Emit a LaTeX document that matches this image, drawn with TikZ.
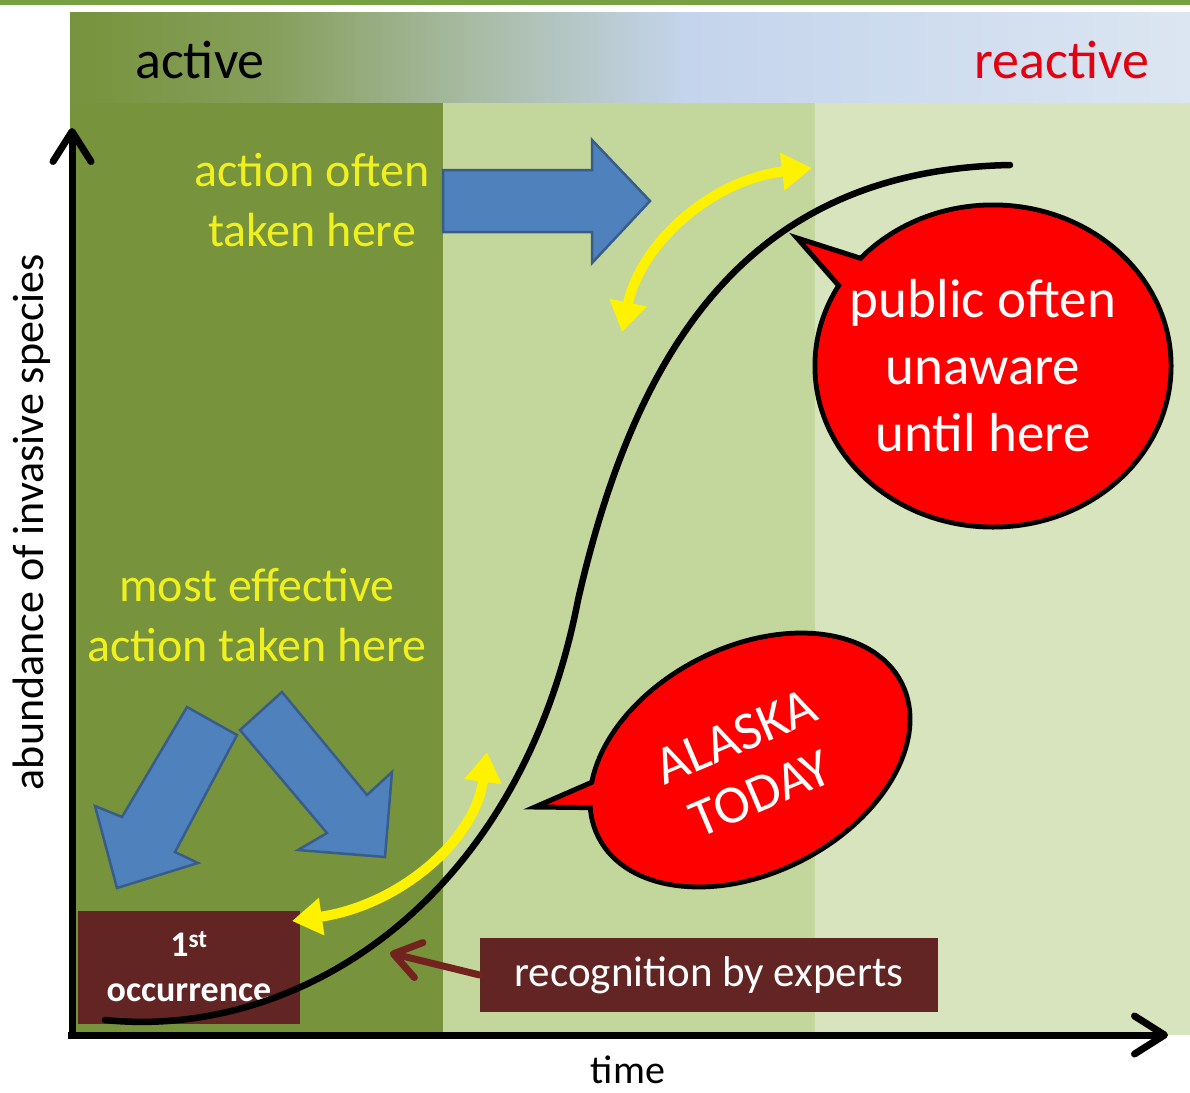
\documentclass[tikz,border=0pt]{standalone}
\usepackage{fontspec}
\setmainfont{Carlito}
\usetikzlibrary{arrows.meta,shapes.geometric,calc}
\definecolor{topgreen}{HTML}{77A043}
\definecolor{darkpanel}{HTML}{77933C}
\definecolor{midpanel}{HTML}{C3D69B}
\definecolor{lightpanel}{HTML}{D7E4BD}
\definecolor{bargray}{HTML}{A8BBA4}
\definecolor{barblue}{HTML}{C4D4EC}
\definecolor{barright}{HTML}{DCE6F2}
\definecolor{arrowblue}{HTML}{4F81BD}
\definecolor{arrowedge}{HTML}{385D8A}
\definecolor{boxbrown}{HTML}{632523}
\definecolor{arrowbrown}{HTML}{72231E}
\definecolor{txtyellow}{HTML}{F0F01E}
\definecolor{bubblered}{HTML}{FF0000}
\definecolor{reactred}{HTML}{E3000F}
\pgfdeclarehorizontalshading{headerbar}{100bp}{color(0bp)=(darkpanel); color(25bp)=(darkpanel); color(34bp)=(darkpanel!70!bargray); color(43bp)=(bargray); color(52.5bp)=(barblue); color(75bp)=(barright); color(100bp)=(barright)}
\begin{document}
\begin{tikzpicture}[x=1pt,y=-1pt,
  bigtxt/.style={font=\fontsize{54}{60}\selectfont, inner sep=0pt},
  yellowtxt/.style={text=txtyellow, align=center, font=\fontsize{48}{60}\selectfont, inner sep=0pt},
  axislabel/.style={font=\fontsize{44}{48}\selectfont, inner sep=0pt},
  blockarrow/.style={fill=arrowblue, draw=arrowedge, line width=2.5pt, line join=miter},
  brownbox/.style={fill=boxbrown, text=white, inner sep=0pt, align=center},
  axisline/.style={line width=7pt, black, -{Straight Barb[length=30pt,width=38pt,round]}},
  scurve/.style={line width=6.5pt, black, line cap=round},
  yellowarrow/.style={line width=10pt, yellow, {Triangle[length=30pt,width=36pt]}-{Triangle[length=30pt,width=36pt]}},
  brownarrow/.style={line width=7pt, arrowbrown, line cap=round, -{Straight Barb[length=26pt,width=36pt,round]}},
  bubbleout/.style={ellipse, fill=bubblered, draw=black, line width=5pt, inner sep=0pt},
  bubblein/.style={ellipse, fill=bubblered, inner sep=0pt},
  bubbletail/.style={fill=bubblered, draw=black, line width=5pt, line join=miter},
  bubbletxt/.style={text=white, align=center, inner sep=0pt}
]
\useasboundingbox (0,0) rectangle (1190,1092);
\fill[white] (0,0) rectangle (1190,1092);
\fill[topgreen] (0,0) rectangle (1190,5);
% header gradient
\shade[shading=headerbar] (70,12) rectangle (1190,103);
\node[bigtxt, text=black] (active) at (200,60) {active};
\node[bigtxt, text=reactred] (reactive) at (1062,60) {reactive};
% panels
\fill[darkpanel] (70,103) rectangle (443,1035);
\fill[midpanel] (443,103) rectangle (815,1035);
\fill[lightpanel] (815,103) rectangle (1190,1035);

% yellow texts
\node[yellowtxt] (often) at (312,200) {action often\\taken here};
\node[yellowtxt] (effective) at (257,615) {most effective\\action taken here};

% blue block arrows
\draw[blockarrow] (443,170) -- (592,170) -- (592,140) -- (650,201) -- (592,263) -- (592,232) -- (443,232) -- cycle;
\draw[blockarrow] (187,707) -- (237,735) -- (175,852) -- (198,863) -- (117,888) -- (95,806) -- (122,817) -- cycle;
\draw[blockarrow] (240,730) -- (282,692) -- (367,795) -- (392,772) -- (385,857) -- (298,850) -- (327,833) -- cycle;

% boxes
\node[brownbox, minimum width=222pt, minimum height=113pt, font=\bfseries\fontsize{36}{45}\selectfont] (first) at (189,967) {1\textsuperscript{st}\\occurrence};
\node[brownbox, minimum width=458pt, minimum height=74pt, font=\fontsize{43}{50}\selectfont] (recog) at (709,975) {recognition by experts};

% S curve
\coordinate (cstart) at (105,1020);
\coordinate (cmid) at (578,600);
\coordinate (cend) at (1010,165);
\draw[scurve] (cstart) .. controls (300,1040) and (520,900) .. (cmid) .. controls (640,330) and (760,170) .. (cend);

% yellow double arrows
\coordinate (ya1) at (622,332);
\coordinate (yb1) at (812,168);
\draw[yellowarrow] (ya1) .. controls (640,245) and (710,180) .. (yb1);
\coordinate (ya2) at (292,921);
\coordinate (yb2) at (487,752);
\draw[yellowarrow] (ya2) .. controls (400,905) and (475,840) .. (yb2);

% brown arrow
\coordinate (btip) at (390,953);
\draw[brownarrow] (recog.west) -- (btip);

% public bubble
\node[bubbleout, minimum width=356pt, minimum height=322pt] (pubout) at (993,366) {};
\filldraw[bubbletail] (891,268) -- (797,238) -- (861,311) -- cycle;
\node[bubblein, minimum width=351pt, minimum height=317pt] (pubin) at (993,366) {};
\node[bubbletxt, font=\fontsize{55}{67}\selectfont] (pubtxt) at (983,366) {public often\\unaware\\until here};

% Alaska bubble
\node[bubbleout, rotate=27, minimum width=340pt, minimum height=226pt] (akout) at (750,760) {};
\filldraw[bubbletail] (620,770) -- (535,807) -- (624,808) -- cycle;
\node[bubblein, rotate=27, minimum width=335pt, minimum height=221pt] (akin) at (750,760) {};
\node[bubbletxt, rotate=23, font=\fontsize{54}{62}\selectfont] (aktxt) at (748,765) {ALASKA\\TODAY};

% axes
\coordinate (origin) at (72,1035);
\coordinate (ytop) at (72,128);
\coordinate (xstart) at (68,1035);
\coordinate (xend) at (1168,1035);
\draw[axisline] (origin) -- (ytop);
\draw[axisline] (xstart) -- (xend);
\node[axislabel, rotate=90] (ylab) at (32,522) {abundance of invasive species};
\node[axislabel, font=\fontsize{40}{44}\selectfont] (xlab) at (628,1070) {time};
\end{tikzpicture}
\end{document}
